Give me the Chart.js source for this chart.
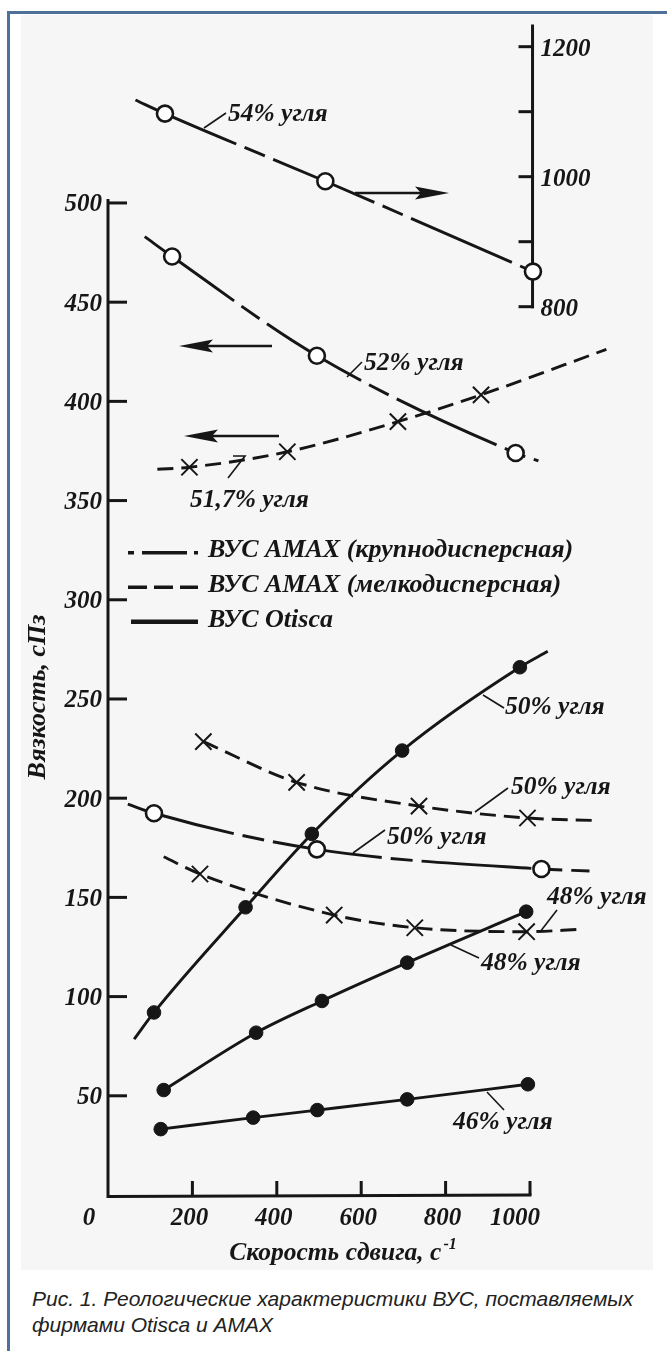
<!DOCTYPE html>
<html><head><meta charset="utf-8">
<script src="https://cdn.jsdelivr.net/npm/chart.js@4/dist/chart.umd.min.js"></script>
<style>
html,body{margin:0;padding:0;background:#fff;}
body{width:667px;height:1351px;position:relative;overflow:hidden;}
#bg{position:absolute;left:21px;top:15px;width:632px;height:1255px;background:#f6f6f6;}
#bt{position:absolute;left:8px;top:11px;width:659px;height:3px;background:#4f7199;}
#bl{position:absolute;left:7px;top:11px;width:3px;height:1340px;background:#4f7199;}
#cv{position:absolute;left:0;top:0;}
#cap{position:absolute;left:32px;top:1286px;font:italic 21px 'Liberation Sans',Arial,sans-serif;color:#222;line-height:26px;white-space:nowrap;}
</style></head><body>
<div id="bg"></div><div id="bt"></div><div id="bl"></div>
<canvas id="cv" width="667" height="1280"></canvas>
<div id="cap">Рис. 1. Реологические характеристики ВУС, поставляемых<br>фирмами Otisca и AMAX</div>
<script>
// ---- tick values / labels ----
const leftTicks = [50, 100, 150, 200, 250, 300, 350, 400, 450, 500];
const rightTicks = [800, 900, 1000, 1100, 1200];
const rightTickLabels = ['800', '', '1000', '', '1200'];
const xTicks = [0, 200, 400, 600, 800, 1000];
const xTickLabels = ['0', '200', '400', '600', '800', '1000'];
const legendLabels = ['ВУС AMAX (крупнодисперсная)', 'ВУС AMAX (мелкодисперсная)', 'ВУС Otisca'];
const yTitle = 'Вязкость, сПз';
const xTitle = 'Скорость сдвига, с';
const xTitleSup = '-1';

// ---- series (shear rate, 1/s ; viscosity, cP) ----
// 54% coal, AMAX coarse (right axis)
const c54Shear = [135, 515, 1007];
const c54Visc  = [1097, 993, 854];
const c54Start = [65, 1118];
// 52% coal, AMAX coarse
const c52Shear = [152, 495, 966];
const c52Visc  = [473, 423, 374];
const c52Start = [87, 483];
const c52End   = [1020, 370];
// 51.7% coal, AMAX fine
const f517Shear = [193, 425, 687, 884];
const f517Visc  = [366.8, 374.6, 389.8, 403.3];
const f517Start = [117, 365.8];
const f517End   = [1181, 426.2];
// 50% coal, Otisca
const o50Shear = [109, 326, 483, 697, 976];
const o50Visc  = [92, 145, 182, 224, 266];
const o50Start = [62, 78.5];
const o50End   = [1042, 274];
// 50% coal, AMAX fine
const f50Shear = [226, 447, 737, 994];
const f50Visc  = [228.5, 208, 196, 190];
const f50End   = [1161, 188.7];
// 50% coal, AMAX coarse
const c50Shear = [109, 495, 1027];
const c50Visc  = [192.4, 174.2, 164.3];
const c50Start = [47, 197];
const c50End   = [1141, 163.3];
// 48% coal, AMAX fine
const f48Shear = [218, 536, 727, 992];
const f48Visc  = [161.8, 141.1, 134.7, 132.7];
const f48Start = [132, 170.5];
const f48End   = [1121, 133.9];
// 48% coal, Otisca
const o48Shear = [132, 351, 507, 709, 991];
const o48Visc  = [52.9, 81.8, 97.8, 117.1, 142.8];
// 46% coal, Otisca
const o46Shear = [125, 344, 496, 709, 995];
const o46Visc  = [33.2, 39, 42.8, 48.2, 55.8];

// ---- styles ----
const INK = '#161616';
const STYLE = {
  coarse: {dash: [110, 9, 22, 9], pointStyle: 'circle', r: 8, bg: '#ffffff', pbw: 2.6},
  fine:   {dash: [16, 8], pointStyle: 'crossRot', r: 11.5, bg: INK, pbw: 2},
  otisca: {dash: [], pointStyle: 'circle', r: 6.8, bg: INK, pbw: 1}
};

function makeSet(label, shear, visc, start, end, kind, axis) {
  const st = STYLE[kind];
  const data = [], radii = [];
  if (start) { data.push({x: start[0], y: start[1]}); radii.push(0); }
  shear.forEach((s, i) => { data.push({x: s, y: visc[i]}); radii.push(st.r); });
  if (end) { data.push({x: end[0], y: end[1]}); radii.push(0); }
  return {
    label, data, yAxisID: axis || 'y',
    borderColor: INK, borderWidth: 2.9, borderDash: st.dash,
    borderCapStyle: 'butt', borderJoinStyle: 'round',
    cubicInterpolationMode: 'monotone', tension: 0.3, fill: false,
    pointStyle: st.pointStyle, pointRadius: radii,
    pointBackgroundColor: st.bg, pointBorderColor: INK, pointBorderWidth: st.pbw,
    clip: false
  };
}

const datasets = [
  makeSet('54%', c54Shear, c54Visc, c54Start, null, 'coarse', 'y2'),
  makeSet('52%', c52Shear, c52Visc, c52Start, c52End, 'coarse'),
  makeSet('51,7%', f517Shear, f517Visc, f517Start, f517End, 'fine'),
  makeSet('50% f', f50Shear, f50Visc, null, f50End, 'fine'),
  makeSet('50% c', c50Shear, c50Visc, c50Start, c50End, 'coarse'),
  makeSet('48% f', f48Shear, f48Visc, f48Start, f48End, 'fine'),
  makeSet('50% o', o50Shear, o50Visc, o50Start, o50End, 'otisca'),
  makeSet('48% o', o48Shear, o48Visc, null, null, 'otisca'),
  makeSet('46% o', o46Shear, o46Visc, null, null, 'otisca')
];

const annotations = [
  {t: '54% угля', x: 228, y: 114, l: [[204,128],[226,113]]},
  {t: '52% угля', x: 364, y: 363, l: [[347,377],[362,362]]},
  {t: '51,7% угля', x: 190, y: 500, l: [[233,456],[245,456],[228,478]]},
  {t: '50% угля', x: 505, y: 707, l: [[483,695],[504,708]]},
  {t: '50% угля', x: 511, y: 787, l: [[508,788],[475,812]]},
  {t: '50% угля', x: 387, y: 837, l: [[385,830],[353,853]]},
  {t: '48% угля', x: 547, y: 897, l: [[557,910],[540,932]]},
  {t: '48% угля', x: 481, y: 963, l: [[451,945],[479,958]]},
  {t: '46% угля', x: 453, y: 1122, l: [[487,1092],[504,1110]]}
];
const arrows = [
  {from: [355,193], to: [449,193]},
  {from: [272,346], to: [179,346]},
  {from: [279,436], to: [184,436]}
];

const SERIF = '"Liberation Serif", "DejaVu Serif", serif';
const FONT = 'italic bold 25px ' + SERIF;
const FONT_A = 'italic bold 25.5px ' + SERIF;
const FONT_L = 'italic bold 26px ' + SERIF;

function arrow(ctx, a) {
  const [x1,y1] = a.from, [x2,y2] = a.to;
  const dir = Math.sign(x2 - x1);
  ctx.lineWidth = 2.6;
  ctx.beginPath(); ctx.moveTo(x1, y1); ctx.lineTo(x2 - dir*20, y2); ctx.stroke();
  ctx.beginPath();
  ctx.moveTo(x2, y2);
  ctx.lineTo(x2 - dir*34, y2 - 6.5);
  ctx.lineTo(x2 - dir*28, y2);
  ctx.lineTo(x2 - dir*34, y2 + 6.5);
  ctx.closePath(); ctx.fill();
}

const axisPlugin = {
  id: 'axesDraw',
  beforeDatasetsDraw(chart) {
    const {ctx, scales: {x, y, y2}} = chart;
    ctx.save();
    ctx.strokeStyle = INK; ctx.fillStyle = INK; ctx.lineCap = 'butt';
    const x0 = x.getPixelForValue(0), x1 = x.getPixelForValue(1000);
    const y0 = y.getPixelForValue(0), yTop = y.getPixelForValue(502);
    ctx.lineWidth = 3;
    ctx.beginPath(); ctx.moveTo(x0, yTop); ctx.lineTo(x0, y0 + 1.5); ctx.lineTo(x1 + 1.5, y0); ctx.stroke();
    // left ticks
    ctx.font = FONT; ctx.textAlign = 'right'; ctx.textBaseline = 'middle';
    leftTicks.forEach(v => {
      const p = y.getPixelForValue(v);
      ctx.lineWidth = 3;
      ctx.beginPath(); ctx.moveTo(x0, p); ctx.lineTo(x0 + 19, p); ctx.stroke();
      ctx.fillText(String(v), x0 - 6, p + 2);
    });
    // x ticks
    ctx.textAlign = 'center';
    xTicks.forEach((v, i) => {
      const p = x.getPixelForValue(v);
      if (v > 0) { ctx.beginPath(); ctx.moveTo(p, y0); ctx.lineTo(p, y0 - 14); ctx.stroke(); }
      const off = v === 0 ? -19 : (v === 1000 ? -15 : -3);
      ctx.fillText(xTickLabels[i], p + off, y0 + 24);
    });
    // right axis
    const xr = x.getPixelForValue(1006);
    const r0 = y2.getPixelForValue(800), r1 = y2.getPixelForValue(1234);
    ctx.beginPath(); ctx.moveTo(xr, r1); ctx.lineTo(xr, r0 + 1.5); ctx.stroke();
    ctx.textAlign = 'left';
    rightTicks.forEach((v, i) => {
      const p = y2.getPixelForValue(v);
      ctx.beginPath(); ctx.moveTo(xr - 14, p); ctx.lineTo(xr + 1.5, p); ctx.stroke();
      if (rightTickLabels[i]) ctx.fillText(rightTickLabels[i], xr + 8, p + 3);
    });
    // axis titles
    ctx.save();
    ctx.font = FONT_L;
    ctx.translate(38, 697); ctx.rotate(-Math.PI/2);
    ctx.textAlign = 'center'; ctx.fillText(yTitle, 0, 0);
    ctx.restore();
    ctx.font = FONT_A;
    const w1 = ctx.measureText(xTitle).width;
    ctx.font = 'italic bold 16px ' + SERIF;
    const w2 = ctx.measureText(xTitleSup).width;
    const sx = 343 - (w1 + w2 + 2)/2;
    ctx.font = FONT_A; ctx.textAlign = 'left';
    ctx.fillText(xTitle, sx, 1253);
    ctx.font = 'italic bold 16px ' + SERIF;
    ctx.fillText(xTitleSup, sx + w1 + 2, 1245);
    // legend
    const lx0 = 128, lx1 = 198;
    [[552.7, [6, 8, 45, 7]], [587.3, [19, 7]], [621.7, []]].forEach(([ly, dash], i) => {
      ctx.setLineDash(dash);
      ctx.lineWidth = i === 2 ? 4.5 : 3.5;
      ctx.beginPath(); ctx.moveTo(i === 2 ? 131 : lx0, ly); ctx.lineTo(lx1, ly); ctx.stroke();
    });
    ctx.setLineDash([]);
    ctx.font = FONT_L; ctx.textBaseline = 'middle';
    legendLabels.forEach((t, i) => ctx.fillText(t, 208, [550, 585, 620][i]));
    // arrows
    arrows.forEach(a => arrow(ctx, a));
    ctx.restore();
  },
  afterDatasetsDraw(chart) {
    const {ctx} = chart;
    ctx.save();
    ctx.strokeStyle = INK; ctx.fillStyle = INK; ctx.lineWidth = 1.6;
    ctx.font = FONT_A; ctx.textAlign = 'left'; ctx.textBaseline = 'middle';
    annotations.forEach(a => {
      ctx.beginPath();
      a.l.forEach((p, i) => i ? ctx.lineTo(p[0], p[1]) : ctx.moveTo(p[0], p[1]));
      ctx.stroke();
      ctx.fillText(a.t, a.x, a.y);
    });
    ctx.restore();
  }
};

new Chart(document.getElementById('cv'), {
  type: 'line',
  data: {datasets},
  options: {
    responsive: false, animation: false, devicePixelRatio: 1,
    layout: {padding: {left: 108, top: 24, right: 31.5, bottom: 85}},
    scales: {
      x: {type: 'linear', min: 0, max: 1250, display: false},
      y: {type: 'linear', min: 0, max: 590.2, display: false},
      y2: {type: 'linear', min: -566.6, max: 1234.9, display: false, position: 'right'}
    },
    plugins: {legend: {display: false}, tooltip: {enabled: false}},
    events: []
  },
  plugins: [axisPlugin]
});
</script>
</body></html>
